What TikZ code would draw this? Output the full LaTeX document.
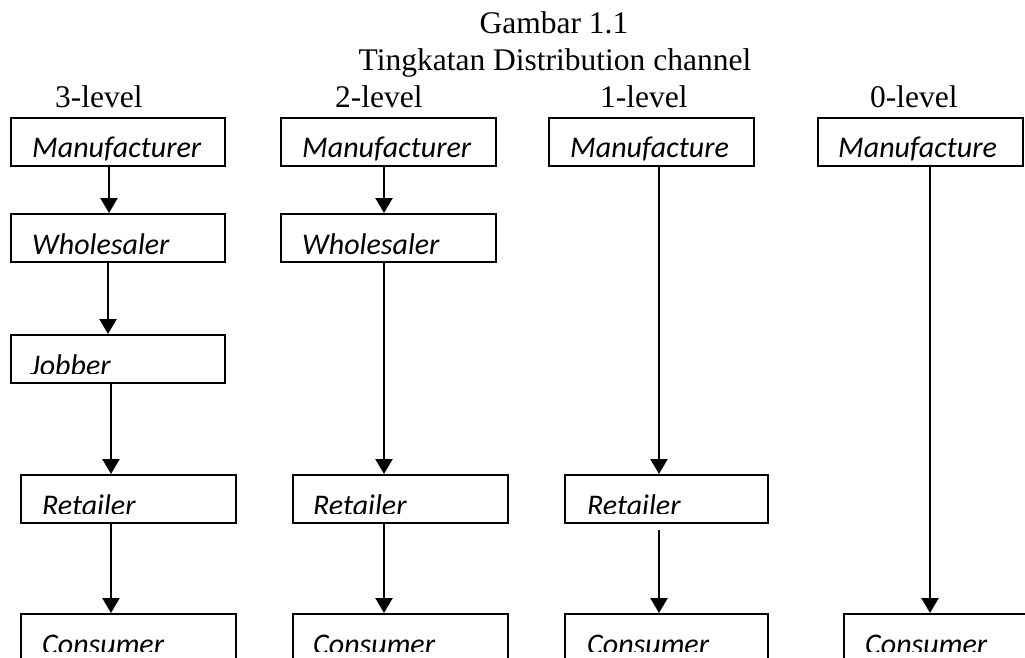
\documentclass[tikz,border=0pt]{standalone}
\usepackage{fontspec}
\setmainfont{Liberation Serif}
\newfontfamily\boxfont{Carlito}
\usetikzlibrary{arrows.meta}
\begin{document}
\begin{tikzpicture}[x=1pt,y=-1pt,
  chbox/.style={draw, line width=1.8pt, inner sep=0pt, anchor=north west, minimum height=48pt},
  conn/.style={line width=2.3pt, -{Triangle[width=17pt,length=15pt]}},
  lbl/.style={font=\fontsize{30}{36}\selectfont\boxfont\itshape, inner sep=0pt, anchor=base west},
  ttl/.style={font=\fontsize{31.5}{38}\selectfont, inner sep=0pt}
]
\clip (0,0) rectangle (1025,657);
\fill[white] (0,0) rectangle (1025,657);

% titles
\node[ttl, anchor=base] (t1) at (554,33) {Gambar 1.1};
\node[ttl, anchor=base] (t2) at (555,70) {Tingkatan Distribution channel};
\node[ttl, anchor=base west] (l3) at (55,107) {3-level};
\node[ttl, anchor=base west] (l2) at (335,107) {2-level};
\node[ttl, anchor=base west] (l1) at (600,107) {1-level};
\node[ttl, anchor=base west] (l0) at (870,107) {0-level};

% boxes column 1
\node[chbox, minimum width=214pt] (M1) at (10,117) {};
\node[chbox, minimum width=214pt] (W1) at (10,213) {};
\node[chbox, minimum width=214pt] (J1) at (10,334) {};
\node[chbox, minimum width=215pt] (R1) at (20,474) {};
\node[chbox, minimum width=215pt, minimum height=70pt] (C1) at (20,613) {};
% column 2
\node[chbox, minimum width=215pt] (M2) at (280,117) {};
\node[chbox, minimum width=215pt] (W2) at (280,213) {};
\node[chbox, minimum width=215pt] (R2) at (292,474) {};
\node[chbox, minimum width=215pt, minimum height=70pt] (C2) at (292,613) {};
% column 3
\node[chbox, minimum width=205pt] (M3) at (548,117) {};
\node[chbox, minimum width=203pt] (R3) at (564,474) {};
\node[chbox, minimum width=203pt, minimum height=70pt] (C3) at (564,613) {};
% column 4
\node[chbox, minimum width=205pt] (M4) at (817,117) {};
\node[chbox, minimum width=220pt, minimum height=70pt] (C4) at (843,613) {};

% texts (unclipped)
\node[lbl] (tM1) at ([xshift=22pt,yshift=-40pt]M1.north west) {Manufacturer};
\node[lbl] (tM2) at ([xshift=22pt,yshift=-40pt]M2.north west) {Manufacturer};
\node[lbl] (tM3) at ([xshift=22pt,yshift=-40pt]M3.north west) {Manufacture};
\node[lbl] (tM4) at ([xshift=21pt,yshift=-40pt]M4.north west) {Manufacture};

% texts clipped at the bottom, as in the reference
\newcommand{\cuttext}[5]{%
  \begin{scope}
    \clip (#1.north west) rectangle ([yshift=#4pt]#1.south east);
    \node[lbl] (#2) at ([xshift=#5pt,yshift=-41pt]#1.north west) {#3};
  \end{scope}}
\cuttext{W1}{tW1}{Wholesaler}{8}{22}
\cuttext{J1}{tJ1}{Jobber}{10}{20}
\cuttext{R1}{tR1}{Retailer}{10}{22}
\cuttext{C1}{tC1}{Consumer}{33}{22}
\cuttext{W2}{tW2}{Wholesaler}{8}{22}
\cuttext{R2}{tR2}{Retailer}{10}{21}
\cuttext{C2}{tC2}{Consumer}{33}{21}
\cuttext{R3}{tR3}{Retailer}{10}{23}
\cuttext{C3}{tC3}{Consumer}{33}{23}
\cuttext{C4}{tC4}{Consumer}{33}{22}

% connector lines
\coordinate (a1) at (109,0);
\coordinate (a2) at (108,0);
\coordinate (a3) at (111,0);
\coordinate (b1) at (384,0);
\coordinate (c1) at (659,0);
\coordinate (d1) at (930,0);

\draw[conn] (M1.south -| a1) -- (W1.north -| a1);
\draw[conn] (W1.south -| a2) -- (J1.north -| a2);
\draw[conn] (J1.south -| a3) -- (R1.north -| a3);
\draw[conn] (R1.south -| a3) -- (C1.north -| a3);
\draw[conn] (M2.south -| b1) -- (W2.north -| b1);
\draw[conn] (W2.south -| b1) -- (R2.north -| b1);
\draw[conn] (R2.south -| b1) -- (C2.north -| b1);
\draw[conn] (M3.south -| c1) -- (R3.north -| c1);
\draw[conn, shorten <=6pt] (R3.south -| c1) -- (C3.north -| c1);
\draw[conn] (M4.south -| d1) -- (C4.north -| d1);
\end{tikzpicture}
\end{document}
